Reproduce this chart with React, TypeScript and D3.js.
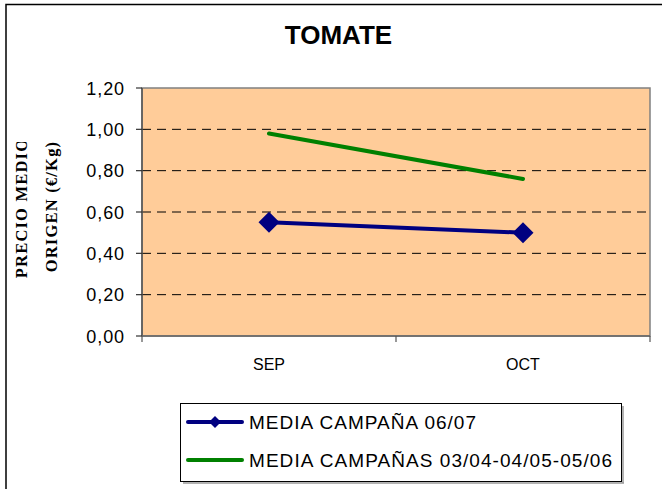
import React from "react";
import * as d3 from "d3";

const categories = ["SEP", "OCT"];
const seriesNames = ["MEDIA CAMPAÑA 06/07", "MEDIA CAMPAÑAS 03/04-04/05-05/06"];
const serieActual = [0.55, 0.5];
const serieMedia = [0.98, 0.76];
const yTicks = [0, 0.2, 0.4, 0.6, 0.8, 1.0, 1.2];

const W = 662;
const H = 489;
const plot = { left: 142, top: 88, right: 650, bottom: 336 };

export default function App() {
  const x = d3
    .scaleBand<string>()
    .domain(categories)
    .range([plot.left, plot.right])
    .paddingInner(0)
    .paddingOuter(0);
  const y = d3.scaleLinear().domain([0, 1.2]).range([plot.bottom, plot.top]);
  const cx = (c: string) => (x(c) as number) + x.bandwidth() / 2;
  const line = d3
    .line<number>()
    .x((_, i) => cx(categories[i]))
    .y((d) => y(d));
  const fmt = (v: number) => v.toFixed(2).replace(".", ",");
  const diamond = (px: number, py: number, r: number) =>
    `M${px},${py - r}L${px + r},${py}L${px},${py + r}L${px - r},${py}Z`;

  const blue = "#000080";
  const green = "#008000";
  const ticksX = [plot.left, ...categories.map((c) => (x(c) as number) + x.bandwidth())];

  return (
    <div style={{ position: "fixed", left: 0, top: 0 }}>
      <svg width={W} height={H} style={{ display: "block", fontFamily: "'Liberation Sans', Arial, sans-serif" }}>
        <defs>
          <clipPath id="ytitleClip">
            <rect x={0} y={142} width={140} height={300} />
          </clipPath>
        </defs>
        <rect x={0} y={0} width={W} height={H} fill="#fff" />
        {/* outer frame */}
        <rect x={6} y={4.5} width={W + 20} height={H + 20} fill="none" stroke="#000" strokeWidth={1.5} />
        {/* title */}
        <text x={338.5} y={44} textAnchor="middle" fontSize={26} fontWeight="bold" fill="#000">
          TOMATE
        </text>
        {/* plot area */}
        <rect
          x={plot.left}
          y={plot.top}
          width={plot.right - plot.left}
          height={plot.bottom - plot.top}
          fill="#FFCC99"
          stroke="#808080"
          strokeWidth={1.5}
        />
        {/* grid lines */}
        {yTicks
          .filter((t) => t > 0 && t < 1.2)
          .map((t) => (
            <line
              key={"g" + t}
              x1={plot.left}
              x2={plot.right}
              y1={y(t)}
              y2={y(t)}
              stroke="#000"
              strokeWidth={1}
              strokeDasharray="9,6"
            />
          ))}
        {/* axes */}
        <line x1={plot.left} x2={plot.left} y1={plot.top} y2={plot.bottom} stroke="#555" strokeWidth={1.5} />
        <line x1={plot.left} x2={plot.right} y1={plot.bottom} y2={plot.bottom} stroke="#666" strokeWidth={1.5} />
        {yTicks.map((t) => (
          <g key={"t" + t}>
            <line x1={plot.left - 6} x2={plot.left} y1={y(t)} y2={y(t)} stroke="#333" strokeWidth={1.2} />
            <text x={125} y={y(t) + 6.5} textAnchor="end" fontSize={18} letterSpacing={0.9} fill="#000">
              {fmt(t)}
            </text>
          </g>
        ))}
        {ticksX.map((tx, i) => (
          <line key={"xt" + i} x1={tx} x2={tx} y1={plot.bottom} y2={plot.bottom + 6} stroke="#555" strokeWidth={1.2} />
        ))}
        {categories.map((c) => (
          <text key={c} x={cx(c)} y={370} textAnchor="middle" fontSize={16} fill="#000">
            {c}
          </text>
        ))}
        {/* y axis title */}
        <g clipPath="url(#ytitleClip)" fontFamily="'Liberation Serif', 'Times New Roman', serif" fontWeight="bold" fontSize={16.5}>
          <text transform="translate(27,208) rotate(-90)" textAnchor="middle" letterSpacing={1.2} fill="#000">
            PRECIO MEDIO
          </text>
          <text transform="translate(57,206.5) rotate(-90)" textAnchor="middle" letterSpacing={1.2} fill="#000">
            ORIGEN (€/Kg)
          </text>
        </g>
        {/* series */}
        <path d={line(serieMedia) || ""} fill="none" stroke={green} strokeWidth={4} strokeLinecap="round" />
        <path d={line(serieActual) || ""} fill="none" stroke={blue} strokeWidth={4} strokeLinecap="round" />
        {serieActual.map((v, i) => (
          <path key={"m" + i} d={diamond(cx(categories[i]), y(v), 10.5)} fill={blue} />
        ))}
        {/* legend */}
        <rect x={180.5} y={403.5} width={441} height={78} fill="#fff" stroke="#000" strokeWidth={1} />
        <line x1={183} x2={624} y1={483} y2={483} stroke="#999" strokeWidth={1.5} />
        <line x1={623} x2={623} y1={406} y2={483} stroke="#999" strokeWidth={1.5} />
        <line x1={188} x2={242} y1={422} y2={422} stroke={blue} strokeWidth={4} strokeLinecap="round" />
        <path d={diamond(215, 422, 6)} fill={blue} />
        <text x={249} y={428.5} fontSize={19} textLength={227} lengthAdjust="spacing" fill="#000">
          {seriesNames[0]}
        </text>
        <line x1={188} x2={242} y1={460} y2={460} stroke={green} strokeWidth={4} strokeLinecap="round" />
        <text x={249} y={466.5} fontSize={19} textLength={363} lengthAdjust="spacing" fill="#000">
          {seriesNames[1]}
        </text>
      </svg>
    </div>
  );
}
